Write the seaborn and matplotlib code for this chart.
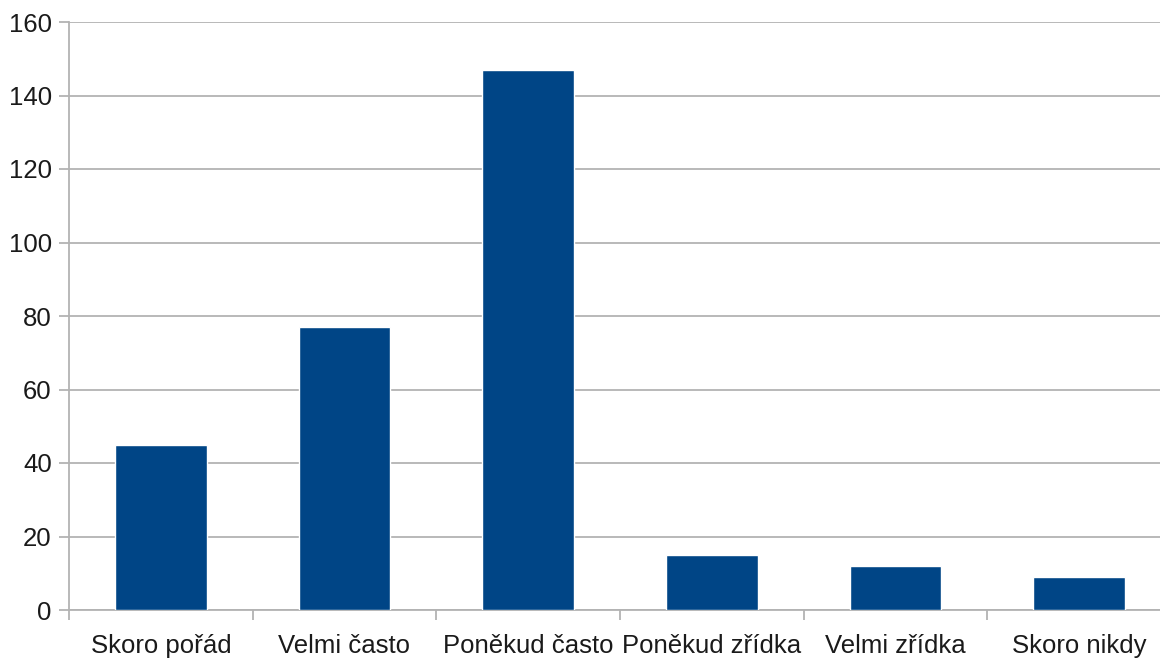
import numpy as np
import pandas as pd
import matplotlib
matplotlib.use("Agg")
import matplotlib.pyplot as plt
import seaborn as sns

categories = ["Skoro pořád", "Velmi často", "Poněkud často", "Poněkud zřídka", "Velmi zřídka", "Skoro nikdy"]
counts = [45, 77, 147, 15, 12, 9]
y_ticks = [0, 20, 40, 60, 80, 100, 120, 140, 160]

df = pd.DataFrame({"odpoved": categories, "pocet": counts})

sns.set_style("white")
plt.rcParams["font.family"] = ["Liberation Sans", "DejaVu Sans"]

grid_col = "#b3b3b3"
fig = plt.figure(figsize=(11.6, 6.58), dpi=100)
ax = fig.add_axes([69 / 1160, 1 - 610 / 658, 1102 / 1160, 588 / 658])

sns.barplot(data=df, x="odpoved", y="pocet", color="#004586", saturation=1,
            width=0.5, ax=ax, zorder=3)

ax.set_xlim(-0.5, len(categories) - 0.5)
ax.set_ylim(0, 160)
ax.set_yticks(y_ticks)
ax.yaxis.grid(True, color=grid_col, linewidth=1.3, zorder=0)
ax.set_axisbelow(True)

# category separators below the axis
ax.set_xticks(np.arange(-0.5, len(categories), 1.0), minor=True)
ax.tick_params(axis="x", which="minor", bottom=True, length=7.5, width=1.3, color=grid_col)
ax.tick_params(axis="x", which="major", bottom=False, length=0, labelsize=18.5, pad=17, labelcolor="#1a1a1a")
ax.tick_params(axis="y", left=True, length=7.5, width=1.3, color=grid_col, labelsize=18.5, pad=5, labelcolor="#1a1a1a")

for side in ["top", "right"]:
    ax.spines[side].set_visible(False)
for side in ["left", "bottom"]:
    ax.spines[side].set_color(grid_col)
    ax.spines[side].set_linewidth(1.3)

ax.set_xlabel("")
ax.set_ylabel("")

fig.savefig("out.png", dpi=100)
